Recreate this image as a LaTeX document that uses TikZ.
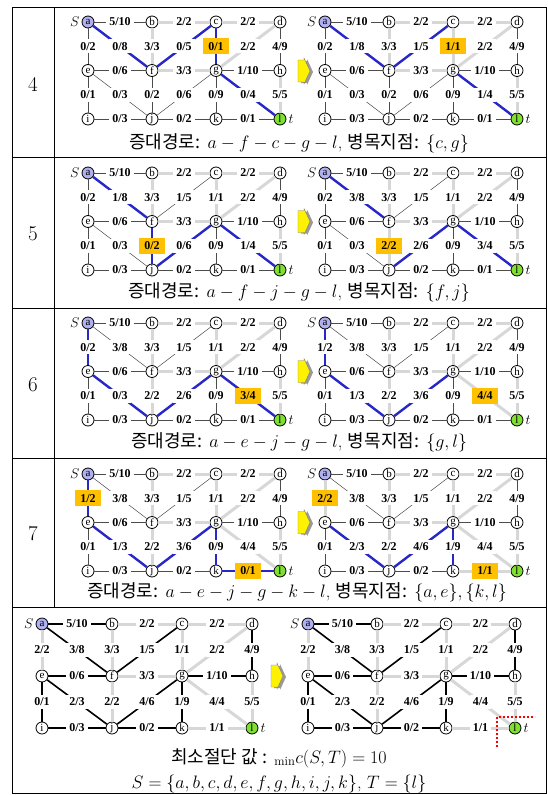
\RequirePackage{fix-cm}
\documentclass[tikz,border=0pt]{standalone}
\usepackage{fontspec}
\newfontfamily\krfont{Noto Sans CJK KR}
\newfontfamily\tmfont{Liberation Serif}
\usetikzlibrary{positioning}

\definecolor{srcblue}{RGB}{176,176,240}
\definecolor{snkgreen}{RGB}{128,224,48}
\definecolor{bnorange}{RGB}{255,192,0}
\definecolor{pathblue}{RGB}{40,40,200}
\definecolor{satgray}{RGB}{215,215,215}

\tikzset{
  vtx/.style={circle,draw,line width=0.8pt,fill=white,inner sep=0pt,minimum size=12pt,font=\tmfont\fontsize{11}{11}\selectfont},
  lbl/.style={fill=white,inner sep=3pt,font=\tmfont\bfseries\fontsize{12}{12}\selectfont},
  bott/.style={lbl,fill=bnorange,minimum width=26pt,minimum height=16pt},
  nrm/.style={draw=black!70,line width=0.5pt},
  sat/.style={draw=satgray,line width=3pt},
  pth/.style={draw=pathblue,line width=2.4pt},
  res/.style={draw=black,line width=1.6pt},
  captxt/.style={font=\fontsize{18}{21}\selectfont},
  rownum/.style={font=\fontsize{21}{24}\selectfont},
  endlbl/.style={inner sep=2pt,font=\fontsize{14}{14}\selectfont},
}

% one flow network: prefix, x, y, column step, row step, edges
\newcommand{\netpanel}[6]{%
  \node[vtx,fill=srcblue,label={[endlbl]left:$S$}] (#1a) at (#2,#3) {a};
  \foreach \nm/\col/\rw in {b/1/0,c/2/0,d/3/0,e/0/1,f/1/1,g/2/1,h/3/1,i/0/2,j/1/2,k/2/2}
    \node[vtx] (#1\nm) at ({#2+\col*#4},{#3+\rw*#5}) {\nm};
  \node[vtx,fill=snkgreen,label={[endlbl]right:$t$}] (#1l) at ({#2+3*#4},{#3+2*#5}) {l};
  \foreach \ea/\eb/\fv/\cv/\lst/\bst in {#6}
    \draw[\lst] (#1\ea) -- node[\bst]{\fv/\cv} (#1\eb);
}
% yellow step arrow with shadow, centred at (#1,#2)
\newcommand{\steparrow}[2]{%
  \fill[black!40] (#1-3,#2-10) -- (#1+3,#2-10) -- (#1+3,#2-12) -- (#1+9,#2+1) -- (#1+3,#2+14) -- (#1+3,#2+12) -- (#1-3,#2+12) -- cycle;
  \filldraw[fill=yellow,draw=black!50,line width=0.4pt] (#1-6,#2-11) -- (#1,#2-11) -- (#1,#2-13) -- (#1+6,#2) -- (#1,#2+13) -- (#1,#2+11) -- (#1-6,#2+11) -- cycle;
}

\begin{document}
\begin{tikzpicture}[x=1pt,y=-1pt]
  \useasboundingbox (0,0) rectangle (548,795);
  % table
  \draw[line width=0.8pt] (12,7) rectangle (546,793);
  \foreach \y in {157,308,458,607} \draw[line width=0.6pt] (12,\y) -- (546,\y);
  \draw[line width=0.6pt] (54,7) -- (54,607);
  \node[rownum] (n4) at (33,84) {4};
  \node[rownum] (n5) at (33,234) {5};
  \node[rownum] (n6) at (33,385) {6};
  \node[rownum] (n7) at (33,534) {7};

  % step 4
  \netpanel{pAl}{88}{22}{64}{48.5}{a/b/5/10/nrm/lbl, b/c/2/2/sat/lbl, c/d/2/2/sat/lbl,
    a/e/0/2/nrm/lbl, a/f/0/8/pth/lbl, b/f/3/3/sat/lbl, c/f/0/5/pth/lbl, c/g/0/1/pth/bott, d/g/2/2/sat/lbl, d/h/4/9/nrm/lbl,
    e/f/0/6/nrm/lbl, f/g/3/3/sat/lbl, g/h/1/10/nrm/lbl,
    e/i/0/1/nrm/lbl, e/j/0/3/nrm/lbl, f/j/0/2/nrm/lbl, g/j/0/6/nrm/lbl, g/k/0/9/nrm/lbl, g/l/0/4/pth/lbl, h/l/5/5/sat/lbl,
    i/j/0/3/nrm/lbl, j/k/0/2/nrm/lbl, k/l/0/1/nrm/lbl}
  \steparrow{304}{71}
  \netpanel{pAr}{325}{22}{64}{48.5}{a/b/5/10/nrm/lbl, b/c/2/2/sat/lbl, c/d/2/2/sat/lbl,
    a/e/0/2/nrm/lbl, a/f/1/8/pth/lbl, b/f/3/3/sat/lbl, c/f/1/5/pth/lbl, c/g/1/1/sat/bott, d/g/2/2/sat/lbl, d/h/4/9/nrm/lbl,
    e/f/0/6/nrm/lbl, f/g/3/3/sat/lbl, g/h/1/10/nrm/lbl,
    e/i/0/1/nrm/lbl, e/j/0/3/nrm/lbl, f/j/0/2/nrm/lbl, g/j/0/6/nrm/lbl, g/k/0/9/nrm/lbl, g/l/1/4/pth/lbl, h/l/5/5/sat/lbl,
    i/j/0/3/nrm/lbl, j/k/0/2/nrm/lbl, k/l/0/1/nrm/lbl}
  \node[captxt] (capA) at (299,143) {{\krfont 증대경로:} $a-f-c-g-l$, {\krfont 병목지점:} $\{c,g\}$};

  % step 5
  \netpanel{pBl}{88}{173}{64}{48.5}{a/b/5/10/nrm/lbl, b/c/2/2/sat/lbl, c/d/2/2/sat/lbl,
    a/e/0/2/nrm/lbl, a/f/1/8/pth/lbl, b/f/3/3/sat/lbl, c/f/1/5/nrm/lbl, c/g/1/1/sat/lbl, d/g/2/2/sat/lbl, d/h/4/9/nrm/lbl,
    e/f/0/6/nrm/lbl, f/g/3/3/sat/lbl, g/h/1/10/nrm/lbl,
    e/i/0/1/nrm/lbl, e/j/0/3/nrm/lbl, f/j/0/2/pth/bott, g/j/0/6/pth/lbl, g/k/0/9/nrm/lbl, g/l/1/4/pth/lbl, h/l/5/5/sat/lbl,
    i/j/0/3/nrm/lbl, j/k/0/2/nrm/lbl, k/l/0/1/nrm/lbl}
  \steparrow{304}{221.5}
  \netpanel{pBr}{325}{173}{64}{48.5}{a/b/5/10/nrm/lbl, b/c/2/2/sat/lbl, c/d/2/2/sat/lbl,
    a/e/0/2/nrm/lbl, a/f/3/8/pth/lbl, b/f/3/3/sat/lbl, c/f/1/5/nrm/lbl, c/g/1/1/sat/lbl, d/g/2/2/sat/lbl, d/h/4/9/nrm/lbl,
    e/f/0/6/nrm/lbl, f/g/3/3/sat/lbl, g/h/1/10/nrm/lbl,
    e/i/0/1/nrm/lbl, e/j/0/3/nrm/lbl, f/j/2/2/sat/bott, g/j/2/6/pth/lbl, g/k/0/9/nrm/lbl, g/l/3/4/pth/lbl, h/l/5/5/sat/lbl,
    i/j/0/3/nrm/lbl, j/k/0/2/nrm/lbl, k/l/0/1/nrm/lbl}
  \node[captxt] (capB) at (299,292) {{\krfont 증대경로:} $a-f-j-g-l$, {\krfont 병목지점:} $\{f,j\}$};

  % step 6
  \netpanel{pCl}{88}{323}{64}{48.5}{a/b/5/10/nrm/lbl, b/c/2/2/sat/lbl, c/d/2/2/sat/lbl,
    a/e/0/2/pth/lbl, a/f/3/8/nrm/lbl, b/f/3/3/sat/lbl, c/f/1/5/nrm/lbl, c/g/1/1/sat/lbl, d/g/2/2/sat/lbl, d/h/4/9/nrm/lbl,
    e/f/0/6/nrm/lbl, f/g/3/3/sat/lbl, g/h/1/10/nrm/lbl,
    e/i/0/1/nrm/lbl, e/j/0/3/pth/lbl, f/j/2/2/sat/lbl, g/j/2/6/pth/lbl, g/k/0/9/nrm/lbl, g/l/3/4/pth/bott, h/l/5/5/sat/lbl,
    i/j/0/3/nrm/lbl, j/k/0/2/nrm/lbl, k/l/0/1/nrm/lbl}
  \steparrow{304}{371.5}
  \netpanel{pCr}{325}{323}{64}{48.5}{a/b/5/10/nrm/lbl, b/c/2/2/sat/lbl, c/d/2/2/sat/lbl,
    a/e/1/2/pth/lbl, a/f/3/8/nrm/lbl, b/f/3/3/sat/lbl, c/f/1/5/nrm/lbl, c/g/1/1/sat/lbl, d/g/2/2/sat/lbl, d/h/4/9/nrm/lbl,
    e/f/0/6/nrm/lbl, f/g/3/3/sat/lbl, g/h/1/10/nrm/lbl,
    e/i/0/1/nrm/lbl, e/j/1/3/pth/lbl, f/j/2/2/sat/lbl, g/j/3/6/pth/lbl, g/k/0/9/nrm/lbl, g/l/4/4/sat/bott, h/l/5/5/sat/lbl,
    i/j/0/3/nrm/lbl, j/k/0/2/nrm/lbl, k/l/0/1/nrm/lbl}
  \node[captxt] (capC) at (299,442) {{\krfont 증대경로:} $a-e-j-g-l$, {\krfont 병목지점:} $\{g,l\}$};

  % step 7
  \netpanel{pDl}{88}{474}{64}{48.5}{a/b/5/10/nrm/lbl, b/c/2/2/sat/lbl, c/d/2/2/sat/lbl,
    a/e/1/2/pth/bott, a/f/3/8/nrm/lbl, b/f/3/3/sat/lbl, c/f/1/5/nrm/lbl, c/g/1/1/sat/lbl, d/g/2/2/sat/lbl, d/h/4/9/nrm/lbl,
    e/f/0/6/nrm/lbl, f/g/3/3/sat/lbl, g/h/1/10/nrm/lbl,
    e/i/0/1/nrm/lbl, e/j/1/3/pth/lbl, f/j/2/2/sat/lbl, g/j/3/6/pth/lbl, g/k/0/9/pth/lbl, g/l/4/4/sat/lbl, h/l/5/5/sat/lbl,
    i/j/0/3/nrm/lbl, j/k/0/2/nrm/lbl, k/l/0/1/pth/bott}
  \steparrow{304}{522.5}
  \netpanel{pDr}{325}{474}{64}{48.5}{a/b/5/10/nrm/lbl, b/c/2/2/sat/lbl, c/d/2/2/sat/lbl,
    a/e/2/2/sat/bott, a/f/3/8/nrm/lbl, b/f/3/3/sat/lbl, c/f/1/5/nrm/lbl, c/g/1/1/sat/lbl, d/g/2/2/sat/lbl, d/h/4/9/nrm/lbl,
    e/f/0/6/nrm/lbl, f/g/3/3/sat/lbl, g/h/1/10/nrm/lbl,
    e/i/0/1/nrm/lbl, e/j/2/3/pth/lbl, f/j/2/2/sat/lbl, g/j/4/6/pth/lbl, g/k/1/9/pth/lbl, g/l/4/4/sat/lbl, h/l/5/5/sat/lbl,
    i/j/0/3/nrm/lbl, j/k/0/2/nrm/lbl, k/l/1/1/sat/bott}
  \node[captxt] (capD) at (297,592) {{\krfont 증대경로:} $a-e-j-g-k-l$, {\krfont 병목지점:} $\{a,e\},\{k,l\}$};

  % minimum cut
  \netpanel{pEl}{42}{624}{70}{52}{a/b/5/10/res/lbl, b/c/2/2/sat/lbl, c/d/2/2/sat/lbl,
    a/e/2/2/sat/lbl, a/f/3/8/res/lbl, b/f/3/3/sat/lbl, c/f/1/5/res/lbl, c/g/1/1/sat/lbl, d/g/2/2/sat/lbl, d/h/4/9/res/lbl,
    e/f/0/6/res/lbl, f/g/3/3/sat/lbl, g/h/1/10/res/lbl,
    e/i/0/1/res/lbl, e/j/2/3/res/lbl, f/j/2/2/sat/lbl, g/j/4/6/res/lbl, g/k/1/9/res/lbl, g/l/4/4/sat/lbl, h/l/5/5/sat/lbl,
    i/j/0/3/res/lbl, j/k/0/2/res/lbl, k/l/1/1/sat/lbl}
  \steparrow{277}{676}
  \netpanel{pEr}{308}{624}{69}{52}{a/b/5/10/res/lbl, b/c/2/2/sat/lbl, c/d/2/2/sat/lbl,
    a/e/2/2/sat/lbl, a/f/3/8/res/lbl, b/f/3/3/sat/lbl, c/f/1/5/res/lbl, c/g/1/1/sat/lbl, d/g/2/2/sat/lbl, d/h/4/9/res/lbl,
    e/f/0/6/res/lbl, f/g/3/3/sat/lbl, g/h/1/10/res/lbl,
    e/i/0/1/res/lbl, e/j/2/3/res/lbl, f/j/2/2/sat/lbl, g/j/4/6/res/lbl, g/k/1/9/res/lbl, g/l/4/4/sat/lbl, h/l/5/5/sat/lbl,
    i/j/0/3/res/lbl, j/k/0/2/res/lbl, k/l/1/1/sat/lbl}
  \draw[red,dotted,line width=2pt] ([shift={(-18,19)}]pErl.center) -- ([shift={(-18,-11)}]pErl.center) -- ([shift={(20,-11)}]pErl.center);
  \node[captxt] (capE) at (279,758) {{\krfont 최소절단 값 :} ${}_{\min}c(S,T)=10$};
  \node[captxt] (capF) at (279,784) {$S=\{a,b,c,d,e,f,g,h,i,j,k\}$, $T=\{l\}$};
\end{tikzpicture}
\end{document}
